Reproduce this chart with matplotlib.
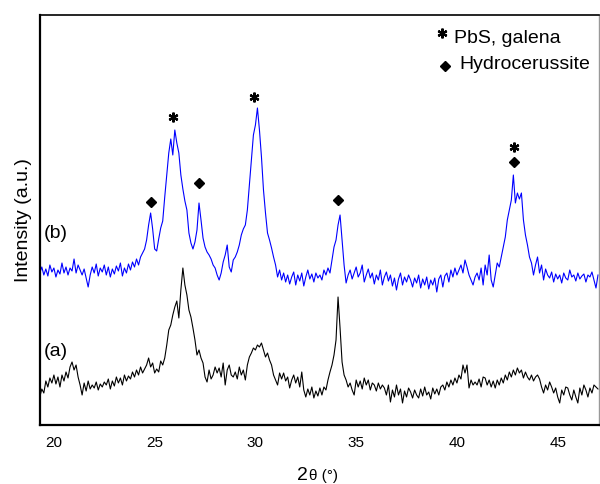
import numpy as np
import matplotlib
matplotlib.use("Agg")
import matplotlib.pyplot as plt

plt.rcParams['font.family'] = ['Liberation Sans', 'DejaVu Sans']

# scan grid (step 0.1 deg) (arb. units, offset as drawn)
two_theta = np.round(np.arange(19.3, 47.05, 0.1), 2)

# (b) upper pattern, blue
int_b = [152, 158, 150, 156, 149, 160, 153,
         157, 148, 155, 151, 162, 152, 158, 150, 157, 154,
         166, 152, 160, 155, 150, 156, 147, 138, 150, 158,
         152, 161, 149, 157, 153, 160, 150, 158, 148, 156,
         151, 159, 154, 162, 149, 157, 152, 161, 155, 163,
         158, 166, 160, 168, 172, 176, 185, 200, 212, 196,
         176, 174, 186, 197, 204, 228, 250, 272, 286, 270,
         295, 282, 272, 250, 236, 224, 215, 192, 182, 176,
         183, 195, 222, 205, 187, 178, 173, 170, 166, 160,
         157, 150, 145, 152, 163, 170, 180, 158, 153, 165,
         168, 173, 180, 190, 196, 200, 215, 240, 265, 290,
         300, 317, 295, 268, 235, 212, 192, 185, 177, 168,
         160, 148, 155, 145, 152, 143, 150, 141, 148, 153,
         140, 150, 144, 152, 139, 148, 155, 146, 151, 143,
         152, 147, 150, 145, 155, 150, 157, 152, 165, 178,
         185, 200, 210, 185, 160, 142, 150, 155, 146, 152,
         158, 148, 152, 160, 143, 150, 156, 147, 152, 141,
         150, 145, 155, 140, 148, 153, 144, 150, 139, 147,
         135, 146, 152, 140, 148, 143, 150, 145, 138, 147,
         142, 150, 137, 146, 140, 148, 136, 145, 140, 147,
         133, 146, 150, 138, 149, 152, 143, 155, 148, 157,
         150, 155, 160, 152, 165, 158, 150, 145, 140, 148,
         152, 145, 157, 140, 160, 150, 170, 145, 138, 150,
         162, 158, 168, 178, 188, 205, 215, 225, 250, 222,
         232, 226, 232, 205, 190, 180, 168, 162, 150, 160,
         168, 152, 160, 145, 156, 150, 147, 153, 143, 151,
         146, 150, 142, 152, 147, 145, 155, 148, 150, 144,
         152, 146, 149, 151, 143, 150, 148, 153, 145, 137,
         150]

# (a) lower pattern, black
int_a = [28, 36, 32, 44, 38, 47, 42,
         50, 41, 48, 38, 50, 44, 53, 47, 58, 63,
         55, 60, 48, 40, 30, 42, 34, 44, 36, 40,
         37, 43, 35, 41, 38, 43, 40, 46, 36, 44,
         39, 48, 42, 47, 40, 50, 44, 49, 46, 53,
         48, 55, 50, 58, 52, 56, 60, 67, 58, 62,
         52, 56, 53, 64, 60, 67, 80, 95, 100, 110,
         118, 124, 107, 135, 157, 140, 130, 115, 108, 97,
         85, 70, 75, 67, 62, 48, 43, 55, 46, 50,
         58, 52, 57, 48, 62, 40, 55, 60, 50, 48,
         53, 46, 58, 50, 55, 45, 60, 68, 72, 77,
         75, 80, 78, 82, 75, 68, 72, 65, 60, 50,
         45, 40, 52, 46, 52, 44, 48, 37, 45, 50,
         42, 48, 38, 53, 35, 28, 36, 30, 38, 27,
         34, 29, 37, 30, 38, 35, 45, 53, 60, 70,
         85, 128, 97, 63, 50, 45, 38, 42, 35, 30,
         45, 38, 44, 36, 47, 40, 45, 35, 42, 40,
         34, 42, 36, 40, 37, 30, 40, 23, 35, 28,
         40, 30, 36, 22, 34, 28, 37, 33, 27, 35,
         30, 27, 36, 29, 38, 30, 33, 26, 37, 31,
         36, 30, 38, 40, 35, 43, 38, 45, 40, 47,
         42, 50, 46, 60, 52, 60, 37, 45, 40, 43,
         40, 46, 38, 48, 47, 40, 45, 38, 44, 37,
         45, 40, 47, 42, 50, 45, 53, 48, 55, 50,
         57, 52, 55, 47, 53, 48, 45, 50, 44, 48,
         50, 46, 38, 32, 40, 35, 43, 38, 32, 37,
         28, 22, 35, 30, 38, 37, 30, 25, 35, 28,
         22, 37, 30, 40, 35, 28, 37, 32, 40, 38,
         36]

# phase markers above pattern (b)
galena_x = [25.93, 29.93, 42.85]
galena_y = [308, 328, 278]
hydro_x = [24.8, 27.2, 34.1, 42.85]
hydro_y = [223, 242, 225, 263]

fig = plt.figure(figsize=(6, 4.84), dpi=100)
ax = fig.add_axes([40/600, 1-425/484, 559/600, 410/484])

ax.plot(two_theta, int_b, color='#0000ff', lw=0.8)
ax.plot(two_theta, int_a, color='black', lw=0.8)

ax.plot(galena_x, galena_y, ls='none', marker=(6, 2, 0), ms=7, mew=1.6, color='black')
ax.plot(hydro_x, hydro_y, ls='none', marker='D', ms=5.5, color='black')

# legend drawn as text
ax.plot([39.26], [392], ls='none', marker=(6, 2, 0), ms=7, mew=1.6, color='black')
ax.text(39.85, 387, 'PbS, galena', fontsize=14, va='center')
ax.plot([39.41], [359], ls='none', marker='D', ms=5.5, color='black')
ax.text(40.1, 361, 'Hydrocerussite', fontsize=14, va='center')

ax.text(19.5, 192, '(b)', fontsize=14, va='center')
ax.text(19.5, 73, '(a)', fontsize=14, va='center')

ax.set_xlim(19.31, 47.05)
ax.set_ylim(0, 410)
ax.set_xticks([20, 25, 30, 35, 40, 45])
ax.set_yticks([])
ax.tick_params(axis='x', length=0, pad=8, labelsize=11)

ax.set_ylabel('Intensity (a.u.)', fontsize=14, labelpad=6)
fig.text(308/600, 1-480/484, '2', fontsize=14, ha='right', va='baseline')
fig.text(309/600, 1-480/484, 'θ (°)', fontsize=11, ha='left', va='baseline')

for s in ['left', 'bottom']:
    ax.spines[s].set_linewidth(1.6)
ax.spines['top'].set_linewidth(1.2)
ax.spines['right'].set_color('#999999')
ax.spines['right'].set_linewidth(1)

plt.savefig('out.png', dpi=100)
plt.close()
